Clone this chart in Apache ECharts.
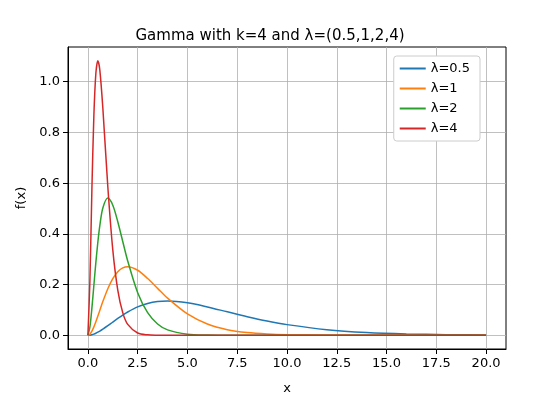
<!DOCTYPE html><html><head><meta charset="utf-8"><script src="https://cdn.jsdelivr.net/npm/echarts@6/dist/echarts.min.js"></script></head><body style="margin:0"><div id="c" style="width:540px;height:400px"></div><script>
const xs=[0,0.1,0.2,0.3,0.4,0.5,0.6,0.75,1,1.25,1.5,1.75,2,2.5,3,3.5,4,5,6,7,8,9,10,12,14,16,18,20];
const names=['λ=0.5','λ=1','λ=2','λ=4'];
const y05=[0,0.0006,0.0023,0.0048,0.0082,0.0122,0.0167,0.0242,0.0379,0.0523,0.0664,0.0798,0.092,0.1119,0.1255,0.1331,0.1353,0.1283,0.112,0.0925,0.0733,0.0562,0.0421,0.0223,0.0112,0.0054,0.0025,0.0011];
const y1=[0,0.0045,0.0164,0.0333,0.0536,0.0758,0.0988,0.1329,0.1839,0.2238,0.251,0.2661,0.2707,0.2565,0.224,0.185,0.1465,0.0842,0.0446,0.0223,0.0107,0.005,0.0023,0.0004,0.0001,0,0,0];
const y2=[0,0.0327,0.1073,0.1976,0.2876,0.3679,0.4337,0.502,0.5413,0.513,0.448,0.37,0.293,0.168,0.0892,0.0447,0.0215,0.0045,0.0009,0.0002,0,0,0,0,0,0,0,0];
const y4=[0,0.2145,0.5751,0.8675,1.0337,1.0827,1.0449,0.8962,0.586,0.3369,0.1785,0.0894,0.0429,0.0091,0.0018,0.0003,0,0,0,0,0,0,0,0,0,0,0,0];
const xTicks=[0,2.5,5,7.5,10,12.5,15,17.5,20];
const yTicks=[0,0.2,0.4,0.6,0.8,1.0];
const colors=['#1f77b4','#ff7f0e','#2ca02c','#d62728'];
const ser=[y05,y1,y2,y4].map((d,i)=>({name:names[i],type:'line',showSymbol:false,smooth:0.3,lineStyle:{width:1.5,color:colors[i]},itemStyle:{color:colors[i]},data:xs.map((x,j)=>[x,d[j]])}));
const f="DejaVu Sans";
const ax={axisLine:{onZero:false,lineStyle:{color:'#000'}},axisTick:{lineStyle:{color:'#000'}},axisLabel:{color:'#000',fontFamily:f,fontSize:13},splitLine:{show:true,lineStyle:{color:'#b0b0b0',width:0.8}},nameTextStyle:{color:'#000',fontFamily:f,fontSize:13},nameLocation:'middle'};
const c=echarts.init(document.getElementById('c'));
c.setOption({animation:false,
title:{text:'Gamma with k=4 and λ=(0.5,1,2,4)',left:'center',top:24,textStyle:{fontFamily:f,fontSize:15,fontWeight:'normal',color:'#000'}},
grid:{left:68,right:34,top:47,bottom:44,show:true,borderColor:'#000'},
legend:{orient:'vertical',right:60,top:56,itemWidth:26,itemHeight:2,itemGap:7,icon:'rect',backgroundColor:'#fff',borderColor:'#ccc',borderWidth:1,borderRadius:3,padding:[6,10,6,6],textStyle:{fontFamily:f,fontSize:13,color:'#000'},data:names},
xAxis:Object.assign({},ax,{type:'value',min:-1,max:21,name:'x',nameGap:33,axisLabel:Object.assign({},ax.axisLabel,{customValues:xTicks,formatter:v=>v.toFixed(1)}),axisTick:Object.assign({},ax.axisTick,{customValues:xTicks}),splitLine:Object.assign({},ax.splitLine,{customValues:xTicks})}),
yAxis:Object.assign({},ax,{type:'value',min:-0.054,max:1.137,name:'f(x)',nameGap:40,axisLabel:Object.assign({},ax.axisLabel,{customValues:yTicks,formatter:v=>v.toFixed(1)}),axisTick:Object.assign({},ax.axisTick,{customValues:yTicks}),splitLine:Object.assign({},ax.splitLine,{customValues:yTicks})}),
series:ser});
</script></body></html>
